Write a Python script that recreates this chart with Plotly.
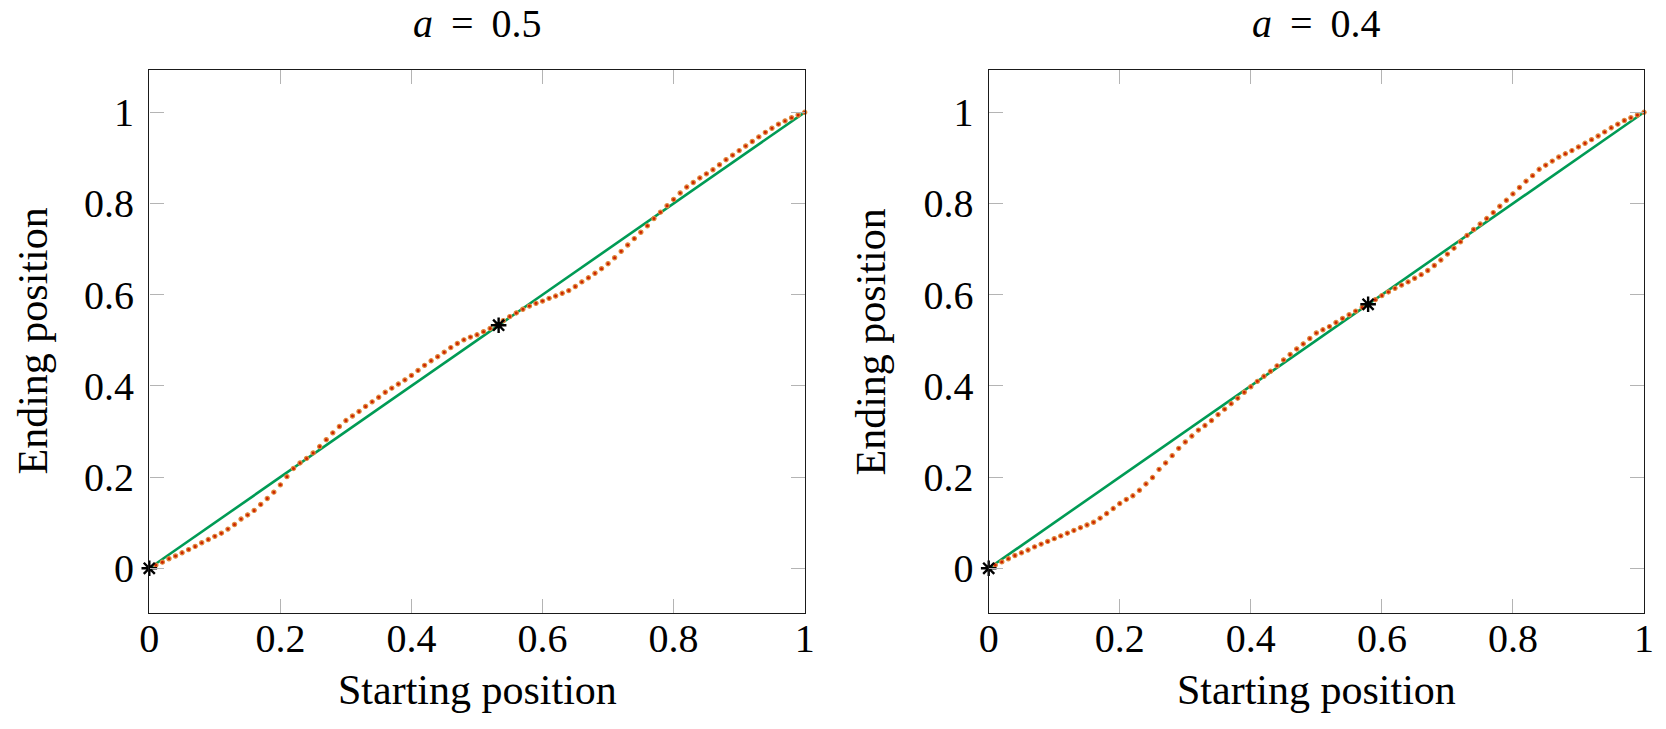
import plotly.graph_objects as go

# ---------------- data ----------------
x_start = [round(i * 0.01, 2) for i in range(101)]

end_a05 = [
    0.000, 0.007, 0.0135, 0.021, 0.027, 0.034, 0.041, 0.048, 0.056, 0.063,
    0.070, 0.077, 0.086, 0.096, 0.108, 0.117, 0.127, 0.140, 0.153, 0.167,
    0.183, 0.201, 0.219, 0.231, 0.241, 0.253, 0.267, 0.282, 0.297, 0.311,
    0.324, 0.334, 0.344, 0.355, 0.365, 0.375, 0.386, 0.395, 0.404, 0.413,
    0.423, 0.434, 0.445, 0.455, 0.464, 0.474, 0.484, 0.493, 0.501, 0.507,
    0.512, 0.519, 0.526, 0.533, 0.543, 0.552, 0.560, 0.568, 0.575, 0.581,
    0.586, 0.592, 0.597, 0.603, 0.609, 0.618, 0.628, 0.637, 0.647, 0.657,
    0.668, 0.681, 0.695, 0.709, 0.723, 0.737, 0.751, 0.767, 0.781, 0.795,
    0.809, 0.823, 0.836, 0.846, 0.856, 0.865, 0.874, 0.885, 0.896, 0.906,
    0.916, 0.926, 0.936, 0.946, 0.956, 0.965, 0.974, 0.981, 0.988, 0.994,
    1.000,
]

end_a04 = [
    0.000, 0.007, 0.014, 0.021, 0.028, 0.034, 0.040, 0.047, 0.053, 0.059,
    0.065, 0.071, 0.077, 0.083, 0.089, 0.095, 0.101, 0.110, 0.120, 0.131,
    0.142, 0.151, 0.159, 0.171, 0.185, 0.199, 0.217, 0.231, 0.247, 0.263,
    0.277, 0.290, 0.303, 0.313, 0.324, 0.337, 0.349, 0.361, 0.373, 0.386,
    0.398, 0.410, 0.421, 0.432, 0.444, 0.457, 0.469, 0.481, 0.492, 0.504,
    0.516, 0.523, 0.530, 0.539, 0.548, 0.556, 0.564, 0.572, 0.579, 0.589,
    0.598, 0.606, 0.614, 0.621, 0.628, 0.636, 0.644, 0.653, 0.664, 0.676,
    0.689, 0.702, 0.716, 0.730, 0.743, 0.755, 0.767, 0.780, 0.794, 0.807,
    0.821, 0.835, 0.849, 0.861, 0.875, 0.884, 0.893, 0.902, 0.909, 0.916,
    0.924, 0.932, 0.940, 0.948, 0.957, 0.966, 0.974, 0.982, 0.988, 0.994,
    1.000,
]

identity_x = [0, 1]
identity_y = [0, 1]

fixed_a05_x = [0, 0.533]
fixed_a05_y = [0, 0.533]
fixed_a04_x = [0, 0.579]
fixed_a04_y = [0, 0.579]

titles = ["<i>a</i> &#8201;= &#8201;0.5", "<i>a</i> &#8201;= &#8201;0.4"]
tick_vals = [0, 0.2, 0.4, 0.6, 0.8, 1]
tick_text = ["0", "0.2", "0.4", "0.6", "0.8", "1"]

# ---------------- style ----------------
FONT = "Liberation Serif"
GREEN = "#009B55"
DOT_FILL = "#CC2200"
DOT_EDGE = "#E0893C"

W, H = 1666, 729
panels = [(149.3, 804.7), (988.7, 1644.0)]
top_px, bot_px = 69.7, 613.3

fig = go.Figure()

series = [
    (end_a05, fixed_a05_x, fixed_a05_y),
    (end_a04, fixed_a04_x, fixed_a04_y),
]

for i, (ends, fx, fy) in enumerate(series):
    xa = "x" if i == 0 else "x2"
    ya = "y" if i == 0 else "y2"
    fig.add_trace(go.Scatter(
        x=identity_x, y=identity_y, mode="lines",
        line=dict(color=GREEN, width=2.6),
        xaxis=xa, yaxis=ya, showlegend=False, hoverinfo="skip",
        cliponaxis=False,
    ))
    fig.add_trace(go.Scatter(
        x=x_start, y=ends, mode="markers",
        marker=dict(symbol="circle", size=4.2, color=DOT_FILL,
                    line=dict(color=DOT_EDGE, width=1.2)),
        xaxis=xa, yaxis=ya, showlegend=False, cliponaxis=False,
    ))
    fig.add_trace(go.Scatter(
        x=fx, y=fy, mode="markers",
        marker=dict(symbol="asterisk-open", size=13, color="black",
                    line=dict(color="black", width=2.4)),
        xaxis=xa, yaxis=ya, showlegend=False, cliponaxis=False,
    ))

axis_common = dict(
    showgrid=False, zeroline=False, automargin=False,
    showline=True, linecolor="#1a1a1a", linewidth=1.4,
    mirror="allticks", ticks="inside", ticklen=14, tickwidth=1.2,
    tickcolor="#b4b4b4",
    tickvals=tick_vals, ticktext=tick_text,
    tickfont=dict(family=FONT, size=40, color="black"),
)

layout_axes = {}
for i, (l, r) in enumerate(panels):
    sfx = "" if i == 0 else "2"
    layout_axes["xaxis" + sfx] = dict(
        axis_common, domain=[l / W, r / W], range=[0, 1],
        anchor="y" + sfx, ticklabelstandoff=-11,
    )
    layout_axes["yaxis" + sfx] = dict(
        axis_common,
        domain=[(H - bot_px) / H, (H - top_px) / H],
        range=[-0.0987, 1.0934], anchor="x" + sfx, ticklabelstandoff=6,
    )

annotations = []
ylab_x = [32, 870]
for i, (l, r) in enumerate(panels):
    cx = (l + r) / 2 / W
    annotations.append(dict(
        text=titles[i], x=cx, y=(H - 24) / H, xref="paper", yref="paper",
        xanchor="center", yanchor="middle", showarrow=False,
        font=dict(family=FONT, size=40, color="black"),
    ))
    annotations.append(dict(
        text="Starting position", x=cx, y=(H - 690) / H,
        xref="paper", yref="paper", xanchor="center", yanchor="middle",
        showarrow=False, font=dict(family=FONT, size=42, color="black"),
    ))
    annotations.append(dict(
        text="Ending position", x=ylab_x[i] / W,
        y=(H - (top_px + bot_px) / 2) / H,
        xref="paper", yref="paper", xanchor="center", yanchor="middle",
        textangle=-90, showarrow=False,
        font=dict(family=FONT, size=42, color="black"),
    ))

fig.update_layout(
    width=W, height=H,
    margin=dict(l=0, r=0, t=0, b=0, autoexpand=False),
    paper_bgcolor="white", plot_bgcolor="white",
    annotations=annotations,
    **layout_axes,
)

fig.write_html("out.html")
